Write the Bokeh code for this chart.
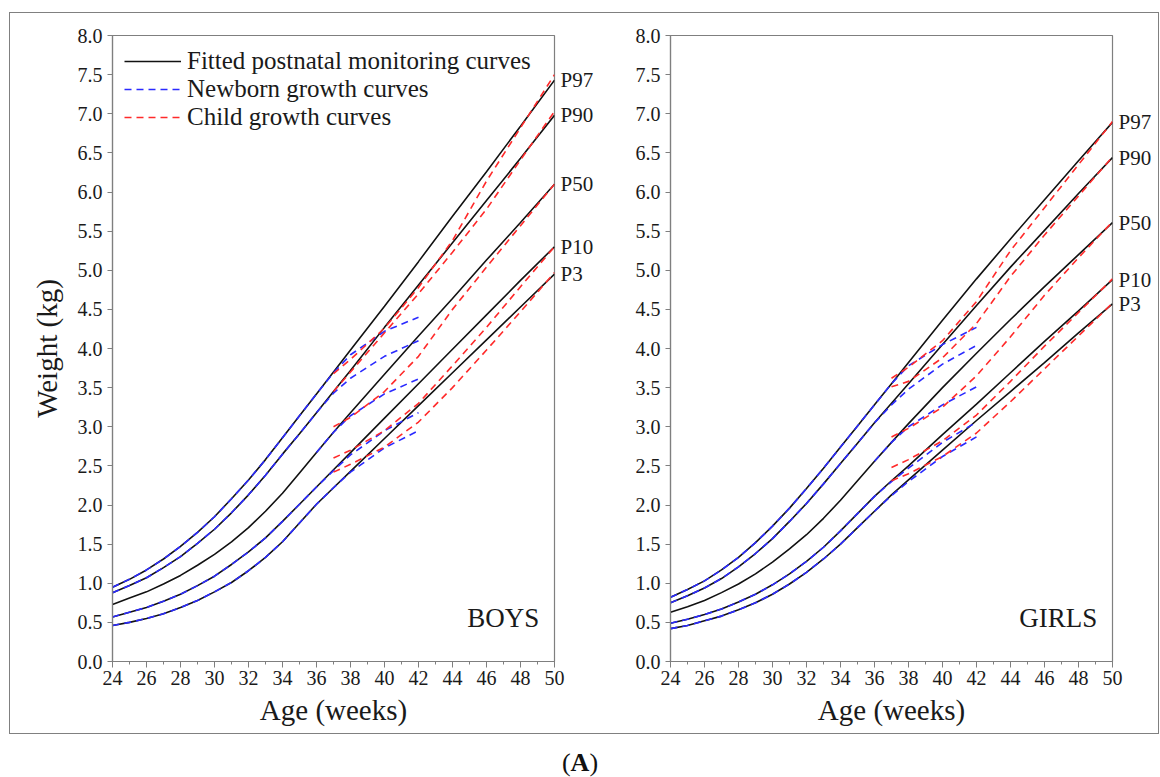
from bokeh.plotting import figure
from bokeh.layouts import row, column
from bokeh.models import (Range1d, FixedTicker, PrintfTickFormatter, Legend, LegendItem,
                          Div, LinearAxis)
from bokeh.core.properties import value
from bokeh.embed import file_html
from bokeh.resources import INLINE

# ---------------- data ----------------
pct_labels = ["P97", "P90", "P50", "P10", "P3"]

weeks_fit = [24, 25, 26, 27, 28, 29, 30, 31, 32, 33, 34, 35, 36, 37, 38, 40, 42, 44, 46, 48, 50]
boys_fit_p97 = [0.95, 1.05, 1.17, 1.31, 1.47, 1.65, 1.85, 2.08, 2.32, 2.58, 2.86, 3.14, 3.42, 3.70, 3.98, 4.54, 5.11, 5.69, 6.26, 6.84, 7.43]
boys_fit_p90 = [0.88, 0.97, 1.07, 1.20, 1.34, 1.51, 1.69, 1.90, 2.13, 2.38, 2.65, 2.91, 3.18, 3.45, 3.72, 4.27, 4.81, 5.35, 5.89, 6.43, 6.98]
boys_fit_p50 = [0.73, 0.81, 0.89, 0.99, 1.10, 1.23, 1.37, 1.53, 1.71, 1.92, 2.15, 2.41, 2.67, 2.93, 3.18, 3.67, 4.16, 4.64, 5.13, 5.61, 6.10]
boys_fit_p10 = [0.57, 0.63, 0.69, 0.77, 0.86, 0.97, 1.09, 1.24, 1.40, 1.58, 1.79, 2.01, 2.23, 2.45, 2.67, 3.11, 3.55, 3.99, 4.43, 4.87, 5.30]
boys_fit_p3 = [0.46, 0.50, 0.55, 0.61, 0.69, 0.78, 0.89, 1.01, 1.16, 1.33, 1.53, 1.77, 2.01, 2.22, 2.43, 2.85, 3.27, 3.69, 4.11, 4.53, 4.95]

girls_fit_p97 = [0.82, 0.92, 1.03, 1.17, 1.33, 1.52, 1.73, 1.96, 2.21, 2.47, 2.74, 3.01, 3.28, 3.55, 3.82, 4.36, 4.89, 5.40, 5.90, 6.40, 6.89]
girls_fit_p90 = [0.75, 0.84, 0.94, 1.06, 1.21, 1.38, 1.57, 1.79, 2.02, 2.27, 2.53, 2.79, 3.05, 3.30, 3.55, 4.05, 4.55, 5.04, 5.51, 5.98, 6.44]
girls_fit_p50 = [0.63, 0.70, 0.78, 0.88, 0.99, 1.12, 1.27, 1.44, 1.62, 1.83, 2.06, 2.31, 2.56, 2.80, 3.04, 3.50, 3.94, 4.37, 4.79, 5.20, 5.61]
girls_fit_p10 = [0.49, 0.54, 0.60, 0.67, 0.76, 0.86, 0.98, 1.12, 1.28, 1.46, 1.67, 1.89, 2.11, 2.31, 2.50, 2.90, 3.29, 3.69, 4.09, 4.48, 4.88]
girls_fit_p3 = [0.42, 0.46, 0.52, 0.58, 0.66, 0.75, 0.86, 0.99, 1.14, 1.31, 1.50, 1.71, 1.92, 2.13, 2.32, 2.70, 3.08, 3.45, 3.82, 4.20, 4.57]

weeks_newborn = [24, 25, 26, 27, 28, 29, 30, 31, 32, 33, 34, 35, 36, 37, 38, 40, 42]
boys_nb_p97 = [0.95, 1.05, 1.17, 1.31, 1.47, 1.65, 1.85, 2.08, 2.32, 2.58, 2.86, 3.14, 3.42, 3.69, 3.92, 4.22, 4.40]
boys_nb_p90 = [0.88, 0.97, 1.07, 1.20, 1.34, 1.51, 1.69, 1.90, 2.13, 2.38, 2.65, 2.91, 3.18, 3.43, 3.62, 3.90, 4.10]
boys_nb_p10 = [0.57, 0.63, 0.69, 0.77, 0.86, 0.97, 1.09, 1.24, 1.40, 1.58, 1.79, 2.01, 2.23, 2.44, 2.64, 2.95, 3.18]
boys_nb_p3 = [0.46, 0.50, 0.55, 0.61, 0.69, 0.78, 0.89, 1.01, 1.16, 1.33, 1.53, 1.77, 2.01, 2.22, 2.42, 2.73, 2.95]
weeks_newborn_p50 = [36, 37, 38, 40, 42]
boys_nb_p50 = [2.67, 2.93, 3.14, 3.42, 3.61]

girls_nb_p97 = [0.82, 0.92, 1.03, 1.17, 1.33, 1.52, 1.73, 1.96, 2.21, 2.47, 2.74, 3.01, 3.28, 3.55, 3.78, 4.05, 4.27]
girls_nb_p90 = [0.75, 0.84, 0.94, 1.06, 1.21, 1.38, 1.57, 1.79, 2.02, 2.27, 2.53, 2.79, 3.05, 3.28, 3.48, 3.80, 4.04]
girls_nb_p10 = [0.49, 0.54, 0.60, 0.67, 0.76, 0.86, 0.98, 1.12, 1.28, 1.46, 1.67, 1.89, 2.11, 2.30, 2.47, 2.80, 3.06]
girls_nb_p3 = [0.42, 0.46, 0.52, 0.58, 0.66, 0.75, 0.86, 0.99, 1.14, 1.31, 1.50, 1.71, 1.92, 2.12, 2.30, 2.62, 2.87]
girls_nb_p50 = [2.56, 2.80, 3.00, 3.28, 3.51]

weeks_child = [37, 38, 40, 42, 44, 46, 48, 50]
boys_ch_p97 = [3.68, 3.86, 4.26, 4.78, 5.38, 6.14, 6.82, 7.50]
boys_ch_p90 = [3.45, 3.70, 4.20, 4.70, 5.23, 5.78, 6.41, 7.03]
boys_ch_p50 = [3.00, 3.12, 3.45, 3.90, 4.50, 5.04, 5.57, 6.10]
boys_ch_p10 = [2.60, 2.70, 2.95, 3.30, 3.78, 4.27, 4.79, 5.30]
boys_ch_p3 = [2.42, 2.52, 2.74, 3.06, 3.50, 3.98, 4.47, 4.97]

girls_ch_p97 = [3.62, 3.76, 4.10, 4.60, 5.25, 5.80, 6.35, 6.90]
girls_ch_p90 = [3.51, 3.58, 3.88, 4.32, 4.92, 5.45, 5.95, 6.45]
girls_ch_p50 = [2.87, 2.98, 3.25, 3.65, 4.15, 4.68, 5.16, 5.62]
girls_ch_p10 = [2.48, 2.58, 2.82, 3.15, 3.58, 4.03, 4.46, 4.89]
girls_ch_p3 = [2.31, 2.40, 2.62, 2.92, 3.32, 3.74, 4.16, 4.58]

yticks = [0.0, 0.5, 1.0, 1.5, 2.0, 2.5, 3.0, 3.5, 4.0, 4.5, 5.0, 5.5, 6.0, 6.5, 7.0, 7.5, 8.0]
xticks = [24, 26, 28, 30, 32, 34, 36, 38, 40, 42, 44, 46, 48, 50]
legend_labels = ["Fitted postnatal monitoring curves", "Newborn growth curves", "Child growth curves"]
panel_titles = ["BOYS", "GIRLS"]
title_pos = (49.1, 0.56)

FONT = "Liberation Serif"
AX = "#7f7f7f"
BLACK = "#111111"
BLUE = "#2a2aff"
RED = "#ff2a2a"
DASH = "7 5"


def make_panel(fit, nb, nb50, ch, title, mb_left, mb_right, show_legend):
    p = figure(frame_width=442, frame_height=626,
               min_border_left=mb_left, min_border_right=mb_right,
               min_border_top=22, min_border_bottom=72,
               x_range=Range1d(24, 50), y_range=Range1d(0, 8),
               toolbar_location=None, output_backend="svg")
    p.xgrid.grid_line_color = None
    p.ygrid.grid_line_color = None
    p.outline_line_color = AX
    p.outline_line_width = 1.2
    p.background_fill_color = "white"
    p.border_fill_color = "white"

    for ax in (p.xaxis[0], p.yaxis[0]):
        ax.axis_line_color = AX
        ax.axis_line_width = 1.2
        ax.major_tick_line_color = AX
        ax.major_tick_in = 0
        ax.major_tick_out = 6
        ax.major_label_text_font = FONT
        ax.major_label_text_font_size = "20px"
        ax.major_label_text_color = "#1a1a1a"
        ax.major_label_standoff = 3
        ax.axis_label_text_font = FONT
        ax.axis_label_text_font_size = "29px"
        ax.axis_label_text_font_style = "normal"
        ax.axis_label_text_color = "#1a1a1a"

    p.xaxis.ticker = FixedTicker(ticks=xticks, minor_ticks=list(range(24, 51)))
    p.xaxis.minor_tick_line_color = AX
    p.xaxis.minor_tick_in = 0
    p.xaxis.minor_tick_out = 3
    p.xaxis.axis_label = "Age (weeks)"
    p.xaxis.axis_label_standoff = 6

    p.yaxis.ticker = FixedTicker(ticks=yticks)
    p.yaxis.formatter = PrintfTickFormatter(format="%.1f")
    p.yaxis.minor_tick_line_color = None
    p.yaxis.major_tick_out = 5
    p.yaxis.major_label_standoff = 5
    if show_legend:
        p.yaxis.axis_label = "Weight (kg)"
        p.yaxis.axis_label_standoff = 12

    black_r = blue_r = red_r = None
    for ys in fit:
        black_r = p.line(weeks_fit, ys, line_color=BLACK, line_width=1.6)
    for ys in nb:
        blue_r = p.line(weeks_newborn, ys, line_color=BLUE, line_width=1.6, line_dash=DASH)
    p.line(weeks_newborn_p50, nb50, line_color=BLUE, line_width=1.6, line_dash=DASH)
    for ys in ch:
        red_r = p.line(weeks_child, ys, line_color=RED, line_width=1.6, line_dash=DASH)

    # percentile labels at the curve ends, as a tick-less right axis
    ends = [ys[-1] for ys in fit]
    rax = LinearAxis(ticker=FixedTicker(ticks=ends),
                     major_label_overrides={e: t for e, t in zip(ends, pct_labels)})
    rax.axis_line_color = None
    rax.major_tick_line_color = None
    rax.minor_tick_line_color = None
    rax.major_tick_in = 0
    rax.major_tick_out = 0
    rax.minor_tick_in = 0
    rax.minor_tick_out = 0
    rax.major_label_standoff = 6
    rax.major_label_text_font = FONT
    rax.major_label_text_font_size = "21px"
    rax.major_label_text_color = "#1a1a1a"
    p.add_layout(rax, "right")

    p.text(x=[title_pos[0]], y=[title_pos[1]], text=[title], text_align="right",
           text_baseline="alphabetic", text_font=value(FONT),
           text_font_size="27px", text_color="#1a1a1a")

    if show_legend:
        leg = Legend(items=[LegendItem(label=legend_labels[0], renderers=[black_r]),
                            LegendItem(label=legend_labels[1], renderers=[blue_r]),
                            LegendItem(label=legend_labels[2], renderers=[red_r])],
                     location="top_left", margin=12, padding=0, spacing=0,
                     glyph_width=57, glyph_height=28, label_height=28,
                     label_standoff=6, label_text_font=FONT,
                     label_text_font_size="25px", label_text_color="#1a1a1a",
                     background_fill_alpha=0, border_line_color=None)
        p.add_layout(leg)
    return p


p1 = make_panel([boys_fit_p97, boys_fit_p90, boys_fit_p50, boys_fit_p10, boys_fit_p3],
                [boys_nb_p97, boys_nb_p90, boys_nb_p10, boys_nb_p3], boys_nb_p50,
                [boys_ch_p97, boys_ch_p90, boys_ch_p50, boys_ch_p10, boys_ch_p3],
                panel_titles[0], 102, 45, True)
p2 = make_panel([girls_fit_p97, girls_fit_p90, girls_fit_p50, girls_fit_p10, girls_fit_p3],
                [girls_nb_p97, girls_nb_p90, girls_nb_p10, girls_nb_p3], girls_nb_p50,
                [girls_ch_p97, girls_ch_p90, girls_ch_p50, girls_ch_p10, girls_ch_p3],
                panel_titles[1], 71, 46, False)

panels = row(p1, p2, margin=(13, 0, 0, 10),
             styles={"outline": "1.3px solid #808080"})
caption = Div(text="(<b>A</b>)", width=1160, height=43, margin=(0, 0, 0, 0),
              styles={"font-family": "Liberation Serif", "font-size": "26px",
                      "text-align": "center", "color": "#111", "padding-top": "17px",
                      "padding-left": "0px", "line-height": "26px"})
layout = column(panels, caption, margin=(0, 0, 0, 0))

open("out.html", "w").write(file_html(layout, INLINE))
